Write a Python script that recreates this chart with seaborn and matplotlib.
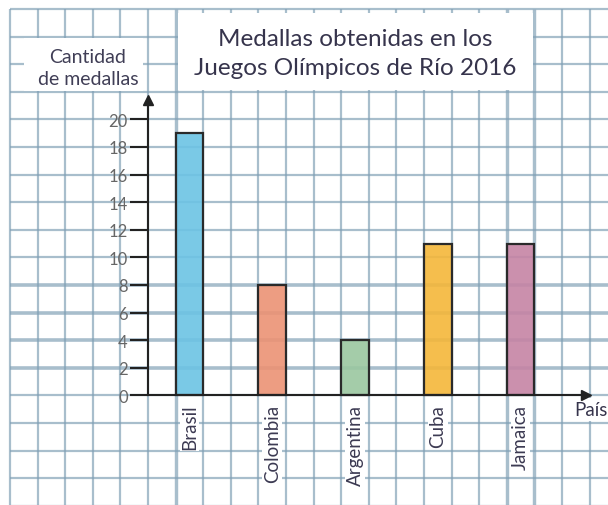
import numpy as np
import pandas as pd
import seaborn as sns
import matplotlib.pyplot as plt
from matplotlib.patches import Rectangle

countries = ["Brasil", "Colombia", "Argentina", "Cuba", "Jamaica"]
medals = [19, 8, 4, 11, 11]
bar_colors = ["#6cc3e4", "#ec9274", "#9ac7a0", "#f4b73a", "#c684a4"]
y_ticks = list(range(0, 21, 2))
title = "Medallas obtenidas en los\nJuegos Olímpicos de Río 2016"
y_label = "Cantidad\nde medallas"
x_label = "País"

sns.set_theme(style="white")
plt.rcParams['font.family'] = ['Lato', 'DejaVu Sans']

W, H = 608, 506
SQ = 27.6          # one grid square in px
GRID = "#7f9fb5"
INK = "#222222"

fig = plt.figure(figsize=(W / 100, H / 100), dpi=100)
ax = fig.add_axes([0, 0, 1, 1])


# one square = 1/3 of a category step on x, = 2 medals on y
def px_x(px):
    return ((px - 10) / SQ - 6.5) / 3


def px_y(py):
    return (396.4 - py) / SQ * 2


df = pd.DataFrame({"pais": countries, "medallas": medals})
sns.barplot(data=df, x="pais", y="medallas", hue="pais", order=countries,
            palette=bar_colors, saturation=1, width=1 / 3,
            edgecolor="#2a2a2a", linewidth=1.6, legend=False, ax=ax, zorder=1)
for p in ax.patches:
    fc = p.get_facecolor()
    p.set_facecolor((fc[0], fc[1], fc[2], 0.9))

ax.set_xlim(px_x(0), px_x(W))
ax.set_ylim(px_y(H), px_y(0))

# squared paper
for k in range(0, 23):
    lw = 3.4 if k in (6, 18, 19) else 2.2
    ax.vlines((k - 6.5) / 3, px_y(H), px_y(10), color=GRID, lw=lw * 0.72,
              alpha=0.68, zorder=0.5)
for j in range(0, 19):
    y = 28 - 2 * j
    lw = 3.6 if y in (2, 4, 6, 8) else 2.2
    ax.hlines(y, px_x(10), px_x(W), color=GRID, lw=lw * 0.72,
              alpha=0.68, zorder=0.5)

# white label boxes
ax.add_patch(Rectangle((178 / W, 1 - 91 / H), (533 - 178) / W, (91 - 14) / H,
                       transform=ax.transAxes, fc="white", ec="none", zorder=3))
ax.add_patch(Rectangle((24 / W, 1 - 92 / H), (143 - 24) / W, (92 - 39) / H,
                       transform=ax.transAxes, fc="white", ec="none", zorder=3))
ax.add_patch(Rectangle((565 / W, 1 - 422 / H), (W - 565) / W, (422 - 399) / H,
                       transform=ax.transAxes, fc="white", ec="none", zorder=3))

ax.text(355 / W, 1 - 54 / H, title, transform=ax.transAxes, ha="center",
        va="center", fontsize=17.5, color="#36344c", linespacing=1.5, zorder=4)
ax.text(88 / W, 1 - 68.5 / H, y_label, transform=ax.transAxes, ha="center",
        va="center", fontsize=14, color="#403e56", linespacing=1.4, zorder=4)
ax.text(574 / W, 1 - 411 / H, x_label, transform=ax.transAxes, ha="left",
        va="center", fontsize=13.5, color="#36344c", zorder=4)

# axes with arrows
for s in ("top", "right"):
    ax.spines[s].set_visible(False)
ax.spines["left"].set_position(("data", -0.5))
ax.spines["bottom"].set_position(("data", 0))
ax.spines["left"].set_bounds(0, px_y(100))
ax.spines["bottom"].set_bounds(-0.5, px_x(584))
for s in ("left", "bottom"):
    ax.spines[s].set_color(INK)
    ax.spines[s].set_linewidth(1.5)
    ax.spines[s].set_zorder(5)
ax.plot(-0.5, px_y(101), marker="^", ms=7, color=INK, clip_on=False, zorder=6)
ax.plot(px_x(586), 0, marker=">", ms=7, color=INK, clip_on=False, zorder=6)

ax.set_yticks(y_ticks)
ax.tick_params(axis="y", direction="out", length=13, width=1.5, color=INK,
               labelsize=12, labelcolor="#666666", pad=1.5, left=True)
ax.set_xticks(range(len(countries)))
ax.set_xticklabels(countries, rotation=90)
ax.tick_params(axis="x", length=0, pad=6, labelsize=13.5, labelcolor="#3c3a52")
for lbl in ax.get_xticklabels():
    lbl.set_bbox(dict(facecolor="white", edgecolor="none", pad=1))
ax.set_xlabel("")
ax.set_ylabel("")

fig.savefig("out.png", dpi=100)
